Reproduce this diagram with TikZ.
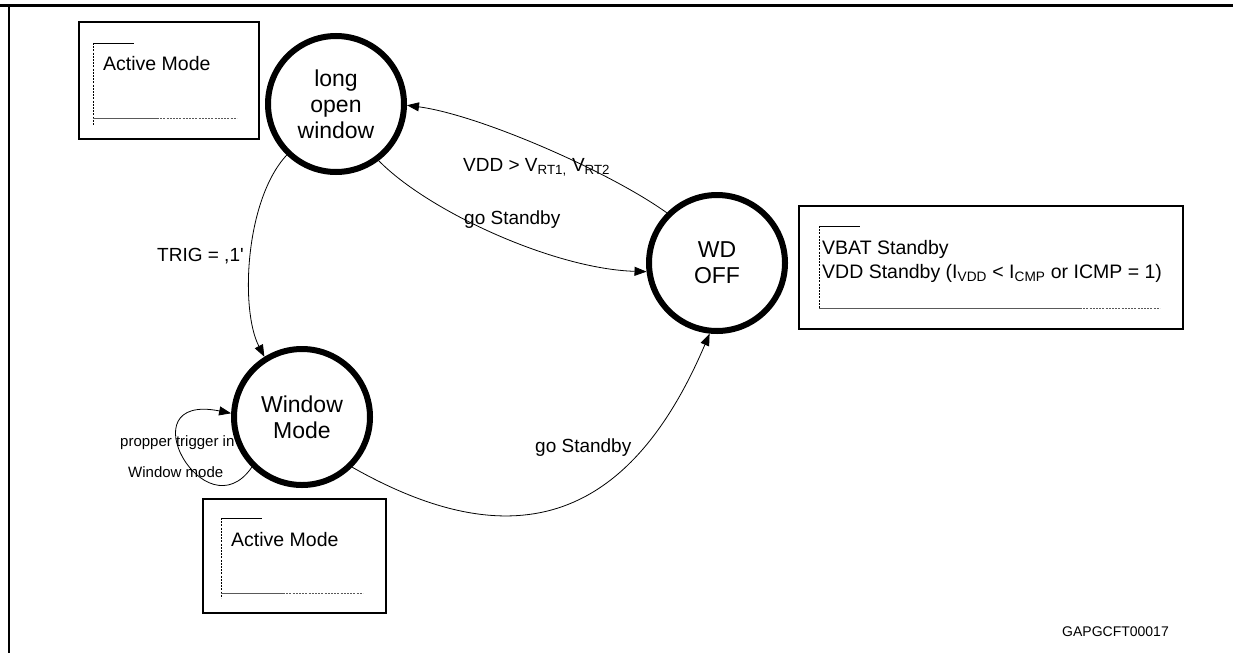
\documentclass[tikz,border=0pt]{standalone}
\usepackage{fontspec}
\setmainfont{Liberation Sans}
\newfontfamily\plainsans{Liberation Sans}
\usetikzlibrary{arrows.meta}
\tikzset{
  state/.style={circle, draw, line width=6pt, minimum size=136pt, inner sep=0pt, fill=white, align=center, font=\fontsize{23}{26}\selectfont},
  lbl/.style={inner sep=0pt, anchor=west, font=\fontsize{19}{22}\selectfont},
  smalllbl/.style={inner sep=0pt, anchor=west, font=\fontsize{15}{18}\selectfont},
  arr/.style={line width=0.8pt, -{Triangle[length=12pt,width=9pt]}},
  modebox/.style={draw, line width=1.6pt, inner sep=0pt, anchor=north west},
  dotline/.style={line width=0.8pt, dash pattern=on 2pt off 1.2pt},
  tick/.style={line width=0.8pt},
  grayline/.style={line width=1pt, draw=black!65},
  frame/.style={draw=black}
}
\begin{document}
\begin{tikzpicture}[x=1pt,y=1pt]
\useasboundingbox (0,0) rectangle (1233,-653);
% outer frame
\draw[frame, line width=3pt] (0,-5) -- (1233,-5);
\draw[frame, line width=1.2pt] (9,-5) -- (9,-653);

% box 1 (top-left)
\node[modebox, minimum width=180pt, minimum height=117pt] (box1) at (78,-21) {};
\draw[dotline] (93,-43) -- (93,-125);
\draw[tick] (93,-43) -- (134,-43);
\draw[grayline] (93,-118) -- (157,-118);
\draw[dotline, draw=black!65] (157,-118) -- (237,-118);
\node[lbl, font=\fontsize{19.5}{22}\selectfont] (am1) at (103,-64) {Active Mode};

% box 2 (bottom)
\node[modebox, minimum width=183pt, minimum height=114pt] (box2) at (202,-498) {};
\draw[dotline] (221,-518) -- (221,-598);
\draw[tick] (221,-518) -- (262,-518);
\draw[grayline] (221,-593) -- (283,-593);
\draw[dotline, draw=black!65] (283,-593) -- (363,-593);
\node[lbl, font=\fontsize{19.5}{22}\selectfont] (am2) at (231,-540) {Active Mode};

% box 3 (right)
\node[modebox, minimum width=384pt, minimum height=123pt] (box3) at (798,-205) {};
\draw[dotline] (819,-226) -- (819,-308);
\draw[tick] (819,-226) -- (860,-226);
\draw[grayline] (819,-308) -- (1080,-308);
\draw[dotline, draw=black!65] (1080,-308) -- (1160,-308);
\node[lbl, font=\fontsize{19.5}{22}\selectfont] (vbat) at (822,-249) {VBAT Standby};
\node[lbl, font=\fontsize{19.5}{22}\selectfont] (vdds) at (822,-273) {VDD Standby (I\textsubscript{VDD} {<} I\textsubscript{CMP} or ICMP = 1)};

% self-loop labels (behind the circle)
\node[smalllbl] (ptrig) at (120,-443) {propper trigger in};
\node[smalllbl] (wmode) at (128,-472) {Window mode};

% states
\node[state] (low) at (336,-104) {long\\open\\window};
\node[state] (wd) at (717,-263) {WD\\OFF};
\node[state] (win) at (302,-417) {Window\\Mode};

% connectors
\draw[arr] (wd.135.5) .. controls (610,-172) and (480,-115) .. (low.-1);
\draw[arr] (low.-53) .. controls (429,-212) and (555,-269) .. (wd.187);
\draw[arr] (low.226) .. controls (245,-200) and (240,-310) .. (win.122);
\draw[arr] (win.-45.5) .. controls (507,-555) and (626,-530) .. (wd.264.5);
\draw[arr] (win.225) .. controls (205,-535) and (125,-392) .. (win.177);

% connector labels
\node[lbl] (vddl) at (463,-167) {VDD > V\textsubscript{RT1,} V\textsubscript{RT2}};
\node[lbl] (gs1) at (464,-220) {go Standby};
\node[lbl, font=\plainsans\fontsize{19}{22}\selectfont] (trig) at (157,-256) {TRIG = ,1'};
\node[lbl] (gs2) at (535,-448) {go Standby};

\node[smalllbl, font=\fontsize{14}{17}\selectfont] (code) at (1062,-632) {GAPGCFT00017};
\end{tikzpicture}
\end{document}
